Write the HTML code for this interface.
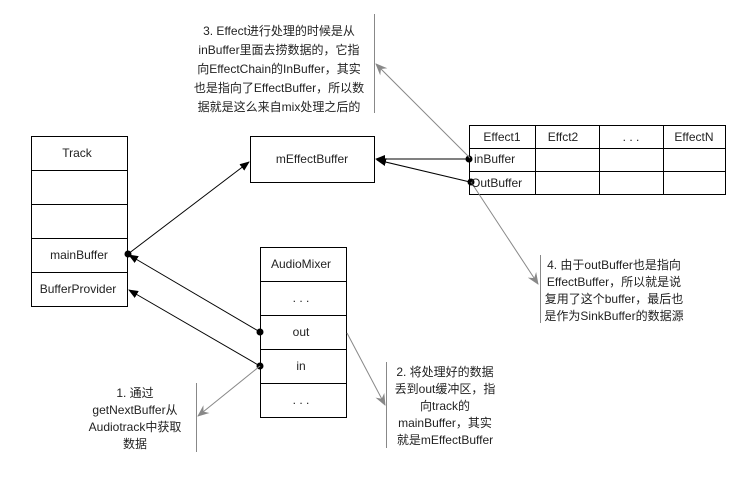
<!DOCTYPE html>
<html><head><meta charset="utf-8"><style>
body{margin:0;background:#fff;}
svg text{font-family:"Liberation Sans","Noto Sans CJK SC",sans-serif;font-size:12px;fill:#222;}
</style></head><body>
<svg width="742" height="492" viewBox="0 0 742 492" xmlns="http://www.w3.org/2000/svg">
<defs>
<marker id="ab" markerWidth="10" markerHeight="8" refX="9" refY="4" orient="auto" markerUnits="userSpaceOnUse"><path d="M0,0 L10,4 L0,8 Z" fill="#000"/></marker>
<marker id="ag" markerWidth="12" markerHeight="10" refX="11" refY="5" orient="auto" markerUnits="userSpaceOnUse"><path d="M0,0 L12,5 L0,10 L4,5 Z" fill="#888"/></marker>
</defs>
<g fill="none" stroke="#000" stroke-width="1">
<rect x="31.5" y="136.5" width="96" height="170"/>
<line x1="31" y1="170.5" x2="128" y2="170.5"/><line x1="31" y1="204.5" x2="128" y2="204.5"/>
<line x1="31" y1="238.5" x2="128" y2="238.5"/><line x1="31" y1="272.5" x2="128" y2="272.5"/>
<rect x="250.5" y="136.5" width="124" height="46"/>
<rect x="260.5" y="247.5" width="86" height="170"/>
<line x1="260" y1="281.5" x2="347" y2="281.5"/><line x1="260" y1="315.5" x2="347" y2="315.5"/>
<line x1="260" y1="349.5" x2="347" y2="349.5"/><line x1="260" y1="383.5" x2="347" y2="383.5"/>
<rect x="469.5" y="125.5" width="256" height="69"/>
<line x1="469" y1="148.5" x2="726" y2="148.5"/><line x1="469" y1="171.5" x2="726" y2="171.5"/>
<line x1="535.5" y1="125" x2="535.5" y2="195"/><line x1="599.5" y1="125" x2="599.5" y2="195"/><line x1="663.5" y1="125" x2="663.5" y2="195"/>
</g>
<g stroke="#000" stroke-width="1" fill="none">
<line x1="128" y1="254" x2="249" y2="162" marker-end="url(#ab)"/>
<line x1="469" y1="159" x2="376" y2="159" marker-end="url(#ab)"/>
<line x1="470" y1="182" x2="377" y2="160" marker-end="url(#ab)"/>
<line x1="260" y1="332" x2="129" y2="255" marker-end="url(#ab)"/>
<line x1="260" y1="366" x2="129" y2="290" marker-end="url(#ab)"/>
</g>
<g fill="#000">
<circle cx="128" cy="254" r="3.5"/><circle cx="469" cy="159" r="3.5"/><circle cx="471" cy="182" r="3.5"/>
<circle cx="260" cy="332" r="3.5"/><circle cx="260" cy="366" r="3.5"/>
</g>
<g stroke="#888" stroke-width="1" fill="none">
<line x1="260" y1="366" x2="198" y2="416" marker-end="url(#ag)"/>
<line x1="347" y1="333" x2="385" y2="405" marker-end="url(#ag)"/>
<line x1="470" y1="158" x2="376" y2="64" marker-end="url(#ag)"/>
<line x1="471" y1="182" x2="538" y2="284" marker-end="url(#ag)"/>
<line x1="374.5" y1="14" x2="374.5" y2="113"/>
<line x1="540.5" y1="255" x2="540.5" y2="323"/>
<line x1="196.5" y1="383" x2="196.5" y2="452"/>
<line x1="386.5" y1="362" x2="386.5" y2="448"/>
</g>
<g text-anchor="middle">
<text x="77" y="157">Track</text>
<text x="79" y="259">mainBuffer</text>
<text x="78" y="293">BufferProvider</text>
<text x="312" y="163">mEffectBuffer</text>
<text x="301" y="268">AudioMixer</text>
<text x="301" y="302">. . .</text>
<text x="301" y="336">out</text>
<text x="301" y="370">in</text>
<text x="301" y="404">. . .</text>
<text x="502" y="141">Effect1</text>
<text x="563" y="141">Effct2</text>
<text x="631" y="141">. . .</text>
<text x="694" y="141">EffectN</text>
<text x="279" y="35">3. Effect进行处理的时候是从</text>
<text x="279" y="54">inBuffer里面去捞数据的，它指</text>
<text x="279" y="73">向EffectChain的InBuffer，其实</text>
<text x="279" y="92">也是指向了EffectBuffer，所以数</text>
<text x="279" y="111">据就是这么来自mix处理之后的</text>
<text x="614" y="269">4. 由于outBuffer也是指向</text>
<text x="614" y="286">EffectBuffer，所以就是说</text>
<text x="614" y="303">复用了这个buffer，最后也</text>
<text x="614" y="320">是作为SinkBuffer的数据源</text>
<text x="135" y="397">1. 通过</text>
<text x="135" y="414">getNextBuffer从</text>
<text x="135" y="431">Audiotrack中获取</text>
<text x="135" y="448">数据</text>
<text x="445" y="376">2. 将处理好的数据</text>
<text x="445" y="393">丢到out缓冲区，指</text>
<text x="445" y="410">向track的</text>
<text x="445" y="427">mainBuffer，其实</text>
<text x="445" y="444">就是mEffectBuffer</text>
</g>
<text x="474" y="163">inBuffer</text>
<text x="471" y="187">OutBuffer</text>
</svg>
</body></html>
